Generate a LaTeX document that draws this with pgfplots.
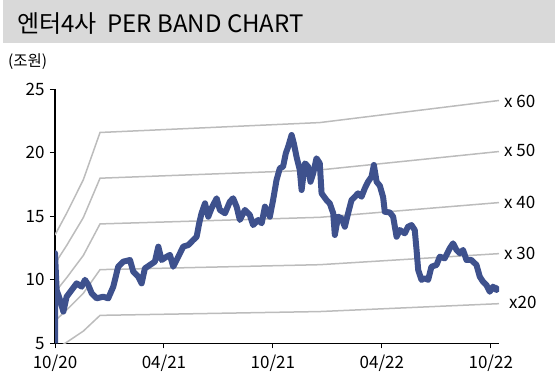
\documentclass[border=0pt]{standalone}
\usepackage{pgfplots}
\pgfplotsset{compat=1.18}
\usepackage{fontspec}
\setmainfont{Noto Sans CJK KR}
\definecolor{bandgray}{RGB}{188,188,188}
\definecolor{navy}{RGB}{62,81,141}
\definecolor{titlegray}{RGB}{217,217,217}
\begin{document}
\begin{tikzpicture}
\path (0,0) rectangle (555pt,384pt);
\fill[titlegray] (3pt,341pt) rectangle (555pt,384pt);
\node[anchor=base west, font=\fontsize{24}{27}\selectfont, inner sep=0] at (17pt,352pt) {엔터4사\ \ PER BAND CHART};
\node[anchor=west, font=\fontsize{15.5}{18}\selectfont, inner sep=0] at (8pt,322pt) {(조원)};
\begin{axis}[at={(55pt,40.7pt)}, anchor=south west, scale only axis,
  width=444pt, height=254pt,
  xmin=0, xmax=24.45, ymin=5, ymax=25,
  axis lines*=left,
  axis line style={black, line width=1.3pt},
  tick align=outside, major tick length=5pt,
  tick style={black, line width=1pt},
  xtick={0,6,12,18,24},
  xticklabels={10/20,04/21,10/21,04/22,10/22},
  ytick={5,10,15,20,25},
  tick label style={font=\fontsize{17}{19}\selectfont},
  /pgf/number format/assume math mode=true,
  yticklabel style={xshift=-2pt},
  xticklabel style={yshift=-3pt},
  clip=true]
% PER bands
\addplot[bandgray, line width=1.5pt] coordinates {(0,13.53) (0.64,15.24) (1.56,17.88) (2.48,21.60) (14.58,22.38) (24.45,24.12)};
\addplot[bandgray, line width=1.5pt] coordinates {(0,11.28) (0.64,12.70) (1.56,14.90) (2.48,18.00) (14.58,18.65) (24.45,20.10)};
\addplot[bandgray, line width=1.5pt] coordinates {(0,9.02) (0.64,10.16) (1.56,11.92) (2.48,14.40) (14.58,14.92) (24.45,16.08)};
\addplot[bandgray, line width=1.5pt] coordinates {(0,6.77) (0.64,7.62) (1.56,8.94) (2.48,10.80) (14.58,11.19) (24.45,12.06)};
\addplot[bandgray, line width=1.5pt] coordinates {(0,4.51) (0.64,5.08) (1.56,5.96) (2.48,7.20) (14.58,7.50) (24.45,8.12)};
% market cap
\addplot[navy, line width=6pt, line join=round] coordinates {
(0,5) (0,12.1) (0.09,9.2) (0.28,8.4) (0.46,7.5) (0.64,8.67) (0.92,9.2) (1.19,9.72)
(1.47,9.46) (1.65,10.0) (1.83,9.6) (2.02,8.94) (2.29,8.54) (2.66,8.67) (2.93,8.54)
(3.21,9.46) (3.48,11.03) (3.76,11.43) (4.13,11.56) (4.31,10.64) (4.58,10.25) (4.77,9.72)
(4.95,10.9) (5.23,11.17) (5.50,11.43) (5.69,12.61) (5.87,11.56) (6.15,11.82) (6.33,11.96)
(6.51,11.03) (6.79,11.82) (7.06,12.61) (7.34,12.74) (7.61,13.13) (7.80,13.39) (7.94,14.45)
(8.07,15.24) (8.26,16.02) (8.44,14.97) (8.62,15.63) (8.90,16.42) (9.08,15.5) (9.36,15.24)
(9.63,16.15) (9.81,16.42) (10.0,15.76) (10.18,14.71) (10.46,15.5) (10.73,15.1) (10.91,14.31)
(11.19,14.71) (11.38,14.45) (11.56,15.76) (11.83,14.97) (12.01,16.28) (12.20,17.86) (12.38,18.78)
(12.56,18.91) (12.71,19.96) (12.84,20.48) (13.03,21.40) (13.15,20.75) (13.30,19.69) (13.48,18.65)
(13.58,17.07) (13.76,19.17) (13.94,18.91) (14.07,17.72) (14.22,18.39) (14.40,19.57) (14.58,19.17)
(14.68,16.81) (14.95,16.28) (15.13,16.02) (15.32,15.24) (15.41,13.53) (15.59,14.97) (15.78,14.84)
(15.96,14.18) (16.14,15.24) (16.33,16.28) (16.51,16.54) (16.69,16.81) (16.88,16.54) (17.06,17.2)
(17.24,17.72) (17.43,18.12) (17.56,19.04) (17.71,17.72) (17.89,17.4) (18.07,16.5) (18.16,15.36)
(18.44,15.3) (18.62,14.97) (18.81,13.39) (18.99,13.92) (19.26,13.66) (19.44,14.18) (19.63,14.31)
(19.81,13.92) (19.91,12.35) (20.0,10.78) (20.18,10.0) (20.36,10.12) (20.55,10.0) (20.73,11.03)
(21.01,11.17) (21.19,11.82) (21.46,11.69) (21.74,12.48) (21.92,12.87) (22.11,12.35) (22.29,12.09)
(22.47,12.35) (22.66,11.56) (22.93,11.56) (23.21,11.17) (23.39,10.25) (23.57,9.85) (23.76,9.59)
(23.94,9.06) (24.12,9.46) (24.31,9.2) (24.45,9.46)};
\end{axis}
\begin{scope}[every node/.style={anchor=west, inner sep=0, font=\fontsize{17}{19}\selectfont}]
\node at (504pt,282.3pt) {x 60};
\node at (504pt,233.3pt) {x 50};
\node at (504pt,181.3pt) {x 40};
\node at (504pt,130.7pt) {x 30};
\node at (509pt,81.3pt) {x20};
\end{scope}
\end{tikzpicture}
\end{document}
